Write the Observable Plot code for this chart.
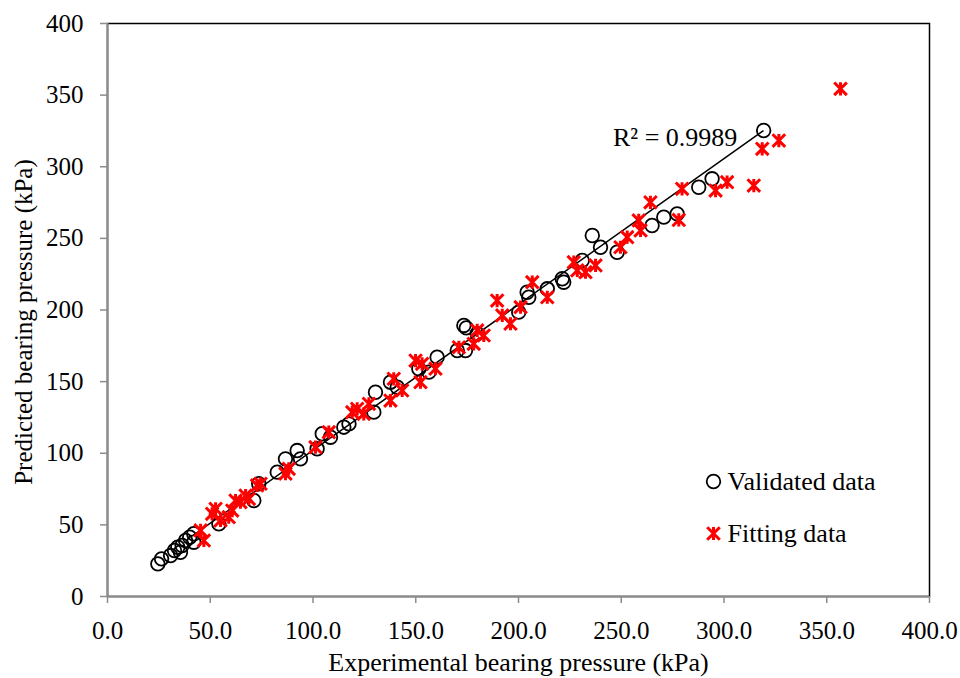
<!DOCTYPE html>
<html>
<head>
<meta charset="utf-8">
<script src="https://cdn.jsdelivr.net/npm/d3@7"></script>
<script src="https://cdn.jsdelivr.net/npm/@observablehq/plot@0.6"></script>
<style>
  html, body { margin: 0; padding: 0; background: white; }
  #chart { position: relative; width: 960px; height: 678px; }
  #ytitle {
    position: absolute; left: 23px; top: 322px;
    transform: translate(-50%, -50%) rotate(-90deg);
    white-space: nowrap;
    font-family: 'Liberation Serif', 'Times New Roman', serif;
    font-size: 25px; line-height: 1; color: black;
  }
</style>
</head>
<body>
<div id="chart"><div id="ytitle"></div></div>
<script>
// ---- data ----
const validatedX = [24.5, 26.3, 30.7, 32.6, 34.2, 36.3, 35.5, 38.0, 40.0, 42.0, 42.0, 54.2, 71.2, 73.6, 82.6, 86.6, 92.3, 93.9, 102.0, 104.5, 108.5, 115.0, 117.5, 129.6, 130.4, 137.7, 141.0, 151.5, 156.4, 160.4, 170.2, 174.2, 173.4, 174.6, 179.9, 200.1, 205.0, 204.2, 214.0, 221.3, 222.0, 231.0, 235.9, 239.9, 248.0, 265.0, 270.7, 277.2, 287.7, 294.2, 319.3];
const validatedY = [22.8, 26.3, 28.6, 32.1, 34.4, 35.6, 30.9, 39.1, 41.4, 43.8, 37.9, 50.7, 67.0, 78.7, 86.8, 96.1, 101.9, 96.1, 103.1, 113.6, 111.2, 118.2, 120.5, 128.7, 142.6, 149.6, 146.1, 159.0, 156.6, 167.1, 171.7, 171.7, 189.2, 187.5, 183.4, 198.5, 208.9, 212.4, 214.8, 221.8, 219.4, 234.6, 252.0, 243.8, 240.3, 259.0, 264.8, 267.1, 285.7, 291.6, 325.3];

const fittingX = [46.9, 45.3, 50.9, 52.6, 55.0, 59.0, 60.7, 62.3, 64.7, 67.2, 68.8, 72.8, 74.5, 86.6, 88.2, 101.2, 107.7, 119.1, 121.5, 124.7, 127.2, 139.3, 137.7, 143.4, 149.9, 153.1, 152.3, 159.6, 171.0, 179.9, 183.1, 178.2, 189.6, 192.1, 196.1, 201.0, 206.7, 214.0, 226.9, 228.6, 232.6, 237.5, 249.6, 252.9, 259.4, 258.5, 264.2, 278.0, 279.6, 295.9, 301.5, 314.5, 318.6, 326.7, 356.7];
const fittingY = [39.1, 46.1, 57.7, 61.2, 53.1, 55.4, 60.0, 67.0, 65.8, 70.5, 68.2, 77.5, 78.7, 85.7, 89.1, 104.2, 114.7, 128.7, 131.0, 127.5, 134.5, 152.0, 136.8, 143.8, 164.7, 162.4, 149.6, 159.0, 174.0, 185.7, 182.2, 176.4, 206.6, 196.2, 190.4, 202.0, 219.4, 208.9, 233.4, 227.6, 226.4, 231.1, 243.8, 250.8, 255.5, 262.5, 275.2, 262.9, 284.6, 283.4, 289.2, 286.9, 312.5, 318.3, 354.4];

const trendX = [42, 319];
const trendY = [43, 325];

const xTicks = [0, 50, 100, 150, 200, 250, 300, 350, 400];
const yTicks = [0, 50, 100, 150, 200, 250, 300, 350, 400];

const xTitle = "Experimental bearing pressure (kPa)";
const yTitle = "Predicted bearing pressure (kPa)";
const r2Label = "R² = 0.9989";
const r2At = [246, 320.6];
const seriesNames = ["Validated data", "Fitting data"];

// ---- build tables ----
const validated = validatedX.map((x, i) => ({x, y: validatedY[i]}));
const fitting = fittingX.map((x, i) => ({x, y: fittingY[i]}));
const trend = trendX.map((x, i) => ({x, y: trendY[i]}));

// Excel-like star marker: an X with a vertical bar
const star = {
  draw(context, size) {
    const a = Math.sqrt(size / Math.PI);
    context.moveTo(-a, -a); context.lineTo(a, a);
    context.moveTo(-a, a); context.lineTo(a, -a);
    context.moveTo(0, -a * 1.05); context.lineTo(0, a * 1.05);
  }
};

const FONT = "'Liberation Serif', 'Times New Roman', serif";

const chart = Plot.plot({
  width: 960,
  height: 678,
  marginLeft: 107,
  marginRight: 31,
  marginTop: 23,
  marginBottom: 82,
  style: {fontFamily: FONT, fontSize: "25px", background: "white", color: "black"},
  x: {domain: [0, 400]},
  y: {domain: [0, 400]},
  marks: [
    Plot.frame({stroke: "black", strokeWidth: 1.5}),
    Plot.axisX({ticks: xTicks, tickFormat: d => d.toFixed(1), tickSize: 7, tickPadding: 18, stroke: "#8c8c8c", strokeWidth: 1.5, fill: "black", label: null, fontSize: 25}),
    Plot.axisY({ticks: yTicks, tickFormat: d => String(d), tickSize: 7, tickPadding: 17, stroke: "#8c8c8c", strokeWidth: 1.5, fill: "black", label: null, fontSize: 25}),
    Plot.ruleX([0], {stroke: "#8c8c8c", strokeWidth: 2}),
    Plot.ruleY([0], {stroke: "#8c8c8c", strokeWidth: 2}),
    Plot.dot(validated, {x: "x", y: "y", r: 6.8, stroke: "black", strokeWidth: 1.8, fill: "none"}),
    Plot.line(trend, {x: "x", y: "y", stroke: "black", strokeWidth: 1.5}),
    Plot.dot(fitting, {x: "x", y: "y", symbol: star, r: 6.3, stroke: "#ff0000", strokeWidth: 3}),
    Plot.text([r2Label], {x: () => r2At[0], y: () => r2At[1], text: d => d, textAnchor: "start", lineAnchor: "middle", fontSize: 26, fill: "black"}),
    // x axis title
    Plot.text([xTitle], {frameAnchor: "bottom", text: d => d, dy: 66, lineAnchor: "middle", fontSize: 26, fill: "black"}),
    // legend
    Plot.dot([seriesNames[0]], {frameAnchor: "top-left", dx: 606, dy: 458, r: 6.8, stroke: "black", strokeWidth: 1.8, fill: "none"}),
    Plot.text([seriesNames[0]], {frameAnchor: "top-left", text: d => d, dx: 620, dy: 458, textAnchor: "start", lineAnchor: "middle", fontSize: 26, fill: "black"}),
    Plot.dot([seriesNames[1]], {frameAnchor: "top-left", dx: 606, dy: 510, symbol: star, r: 6.3, stroke: "#ff0000", strokeWidth: 3}),
    Plot.text([seriesNames[1]], {frameAnchor: "top-left", text: d => d, dx: 620, dy: 510, textAnchor: "start", lineAnchor: "middle", fontSize: 26, fill: "black"})
  ]
});

document.getElementById("chart").appendChild(chart);
document.getElementById("ytitle").textContent = yTitle;
</script>
</body>
</html>
